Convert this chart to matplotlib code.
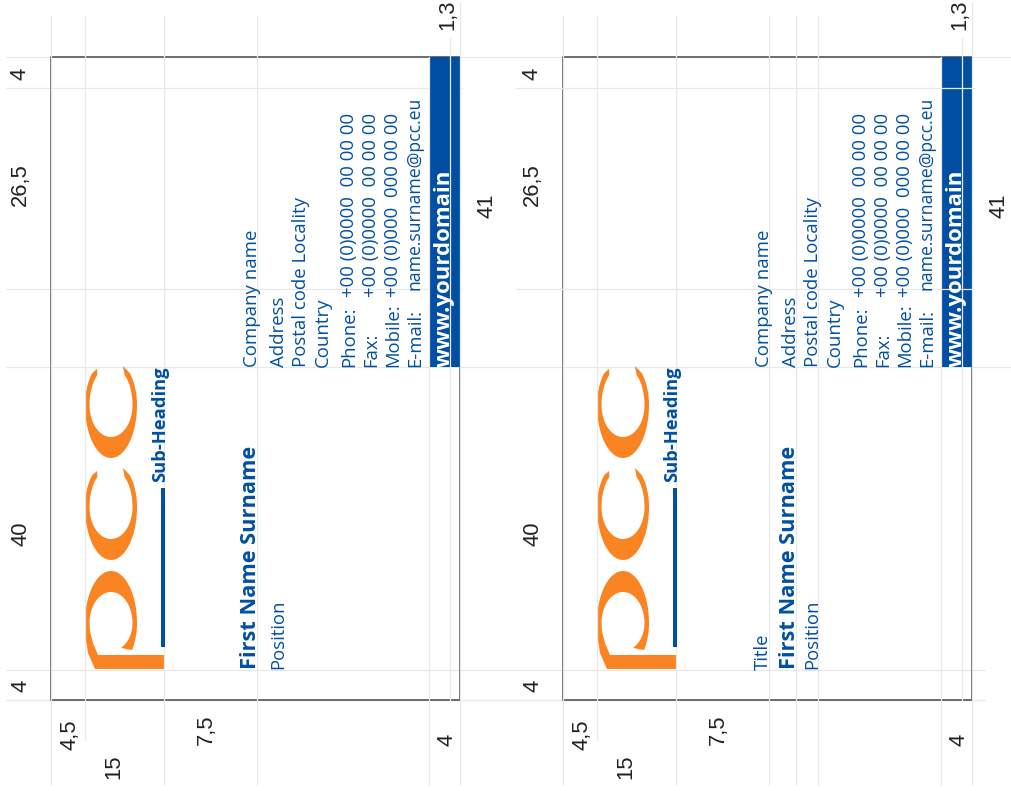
"""Business card template (two variants), drawn rotated, with mm guides."""
import numpy as np
import matplotlib
matplotlib.use("Agg")
import matplotlib.pyplot as plt
from matplotlib.patches import Polygon, Rectangle

W, H = 1012, 791
MM = 7.56          # px per mm
BLUE = "#004fa3"
ORANGE = "#f98421"
GUIDE = "#e8e8e8"
TEXT_FONT = ["Open Sans", "DejaVu Sans"]

# card positions (bottom-left corner in px)
card_x = [51, 563]
card_y = 700

# guides in mm across the card (v), with their start and end in px
guides_v = [0, 4.5, 15, 27.2, 50, 52.8, 54.1]
guides_v_top = [16, 16, 16, 16, 57, 38, 3]
guides_v_bottom = [785, 740, 785, 785, 785, 700, 785]
extra_v_card2 = [30.8, 33.7]

# guides in mm along the card (u), counted from the bottom edge
long_guides_u = [0, 4, 44, 85]
short_guides_u = [54.3, 81]

# address block
left_lines = ["Company name", "Address", "Postal code Locality", "Country"]
left_base = [27.2, 30.8, 33.7, 36.6]
contact_labels = ["Phone:", "Fax:", "Mobile:", "E-mail:"]
contact_values = ["+00 (0)0000  00 00 00", "+00 (0)0000  00 00 00",
                  "+00 (0)000  000 00 00", "name.surname@pcc.eu"]
contact_base = [40.1, 43.0, 45.9, 48.8]
contact_start = [297, 297, 297, 290]
contact_size = [13.45, 13.45, 13.45, 12.7]

# dimension labels: text, baseline offset x from card, y in px
dim_labels = ["4", "26,5", "40", "4", "4,5", "7,5", "15", "4", "41", "1,3"]
dim_dx = [-25, -25, -24, -24, 25, 161, 68, 402, 442, 402]
dim_y = [74, 185, 534, 686, 735, 730, 767, 740, 206, 15]


def ellipse_pts(cx, cy, a, up, down, t0, t1):
    # t measured from +x, screen y grows downward; "up" is the half-height on top
    t = np.radians(np.linspace(t0, t1, 70))
    y = np.sin(t)
    hh = np.where(y > 0, up, down)
    return np.column_stack([cx + a * np.cos(t), cy - hh * y])


def draw_c(ax, x0, cy):
    cx = x0 + 60
    # outer: from right horn around the bottom to left horn
    outer = ellipse_pts(cx, cy, 26, 46, 53, 44, -224)
    inner = ellipse_pts(cx, cy, 21.5, 39, 32, -231, 51)
    tips = [[cx - 14, cy - 36]], [[cx + 12, cy - 39]]
    ax.add_patch(Polygon(np.vstack([outer, tips[0], inner, tips[1]]),
                         closed=True, fc=ORANGE, ec="none", zorder=3))


def draw_p(ax, x0):
    cx, cy = x0 + 60, 623
    top = 669
    outer = ellipse_pts(cx, cy, 26, 52, 46, -36, 180)
    low_left = np.array([[cx - 25.5, cy + 14], [cx - 23, cy + 30], [cx - 16, top]])
    stem = np.array([[x0 + 113, top], [x0 + 113, 655], [cx - 13, 655]])
    inner_left = np.array([[cx - 18, cy + 20], [cx - 21, cy + 8]])
    inner = ellipse_pts(cx, cy, 21.5, 31, 28, 180, -63)
    ax.add_patch(Polygon(np.vstack([outer, low_left, stem, inner_left, inner]),
                         closed=True, fc=ORANGE, ec="none", zorder=3))


fig = plt.figure(figsize=(W / 100, H / 100), dpi=100)
ax = fig.add_axes([0, 0, 1, 1])
ax.set_xlim(0, W)
ax.set_ylim(H, 0)
ax.axis("off")


def rtext(x, y, s, size, weight="normal", color=BLUE, z=6):
    ax.text(x, y, s, rotation=90, rotation_mode="anchor", ha="left", va="baseline",
            fontsize=size, fontweight=weight, color=color, family=TEXT_FONT, zorder=z)


# guides that run on across both cards
for u in long_guides_u:
    y = card_y - u * MM
    x_end = 985 if u < 40 else 1012
    ax.plot([6, x_end], [y, y], color=GUIDE, lw=0.9, zorder=1)

for i, x0 in enumerate(card_x):
    for u in short_guides_u:
        y = card_y - u * MM
        ax.plot([x0 - 47 if i == 1 else 6, x0 + 411], [y, y], color=GUIDE, lw=0.9,
                zorder=1 if i == 0 else 4)

    # card and bar
    ax.add_patch(Rectangle((x0, 57), 409, 643, fc="none", ec="#555555", lw=1.2, zorder=2))
    ax.add_patch(Rectangle((x0 + 378, 57), 31, 310, fc=BLUE, ec="none", zorder=3))

    # vertical guides
    vs = list(zip(guides_v, guides_v_top, guides_v_bottom))
    if i == 1:
        vs += [(v, 16, 785) for v in extra_v_card2]
    for v, t, b in vs:
        x = x0 + v * MM
        ax.plot([x, x], [t, b], color=GUIDE, lw=0.9, zorder=4)

    # logo
    draw_p(ax, x0)
    draw_c(ax, x0, 507)
    draw_c(ax, x0, 405)
    ax.add_patch(Rectangle((x0 + 110, 488), 4, 159, fc=BLUE, ec="none", zorder=5))
    rtext(x0 + 114, 482, "Sub-Heading", 13.2, "bold")

    # names
    if i == 0:
        rtext(x0 + 205, 669, "First Name Surname", 15.7, "bold")
        rtext(x0 + 232, 669, "Position", 13.3)
    else:
        rtext(x0 + 205, 670, "Title", 13.3)
        rtext(x0 + 232, 669, "First Name Surname", 15.7, "bold")
        rtext(x0 + 254, 669, "Position", 13.3)

    # address
    for s, v in zip(left_lines, left_base):
        rtext(x0 + v * MM, 367, s, 13.4)
    for lab, val, v, st, sz in zip(contact_labels, contact_values, contact_base,
                                   contact_start, contact_size):
        rtext(x0 + v * MM, 367, lab, 13.3)
        rtext(x0 + v * MM, st, val, sz)
    rtext(x0 + 399, 367, "www.yourdomain", 16, "bold", color="white")

    # dimensions
    for s, dx, y in zip(dim_labels, dim_dx, dim_y):
        ax.text(x0 + dx, y, s, rotation=90, rotation_mode="anchor", ha="center", va="baseline",
                fontsize=15.8, family=["Liberation Sans", "DejaVu Sans"],
                color="#222222", zorder=6)

fig.savefig("out.png", dpi=100)
